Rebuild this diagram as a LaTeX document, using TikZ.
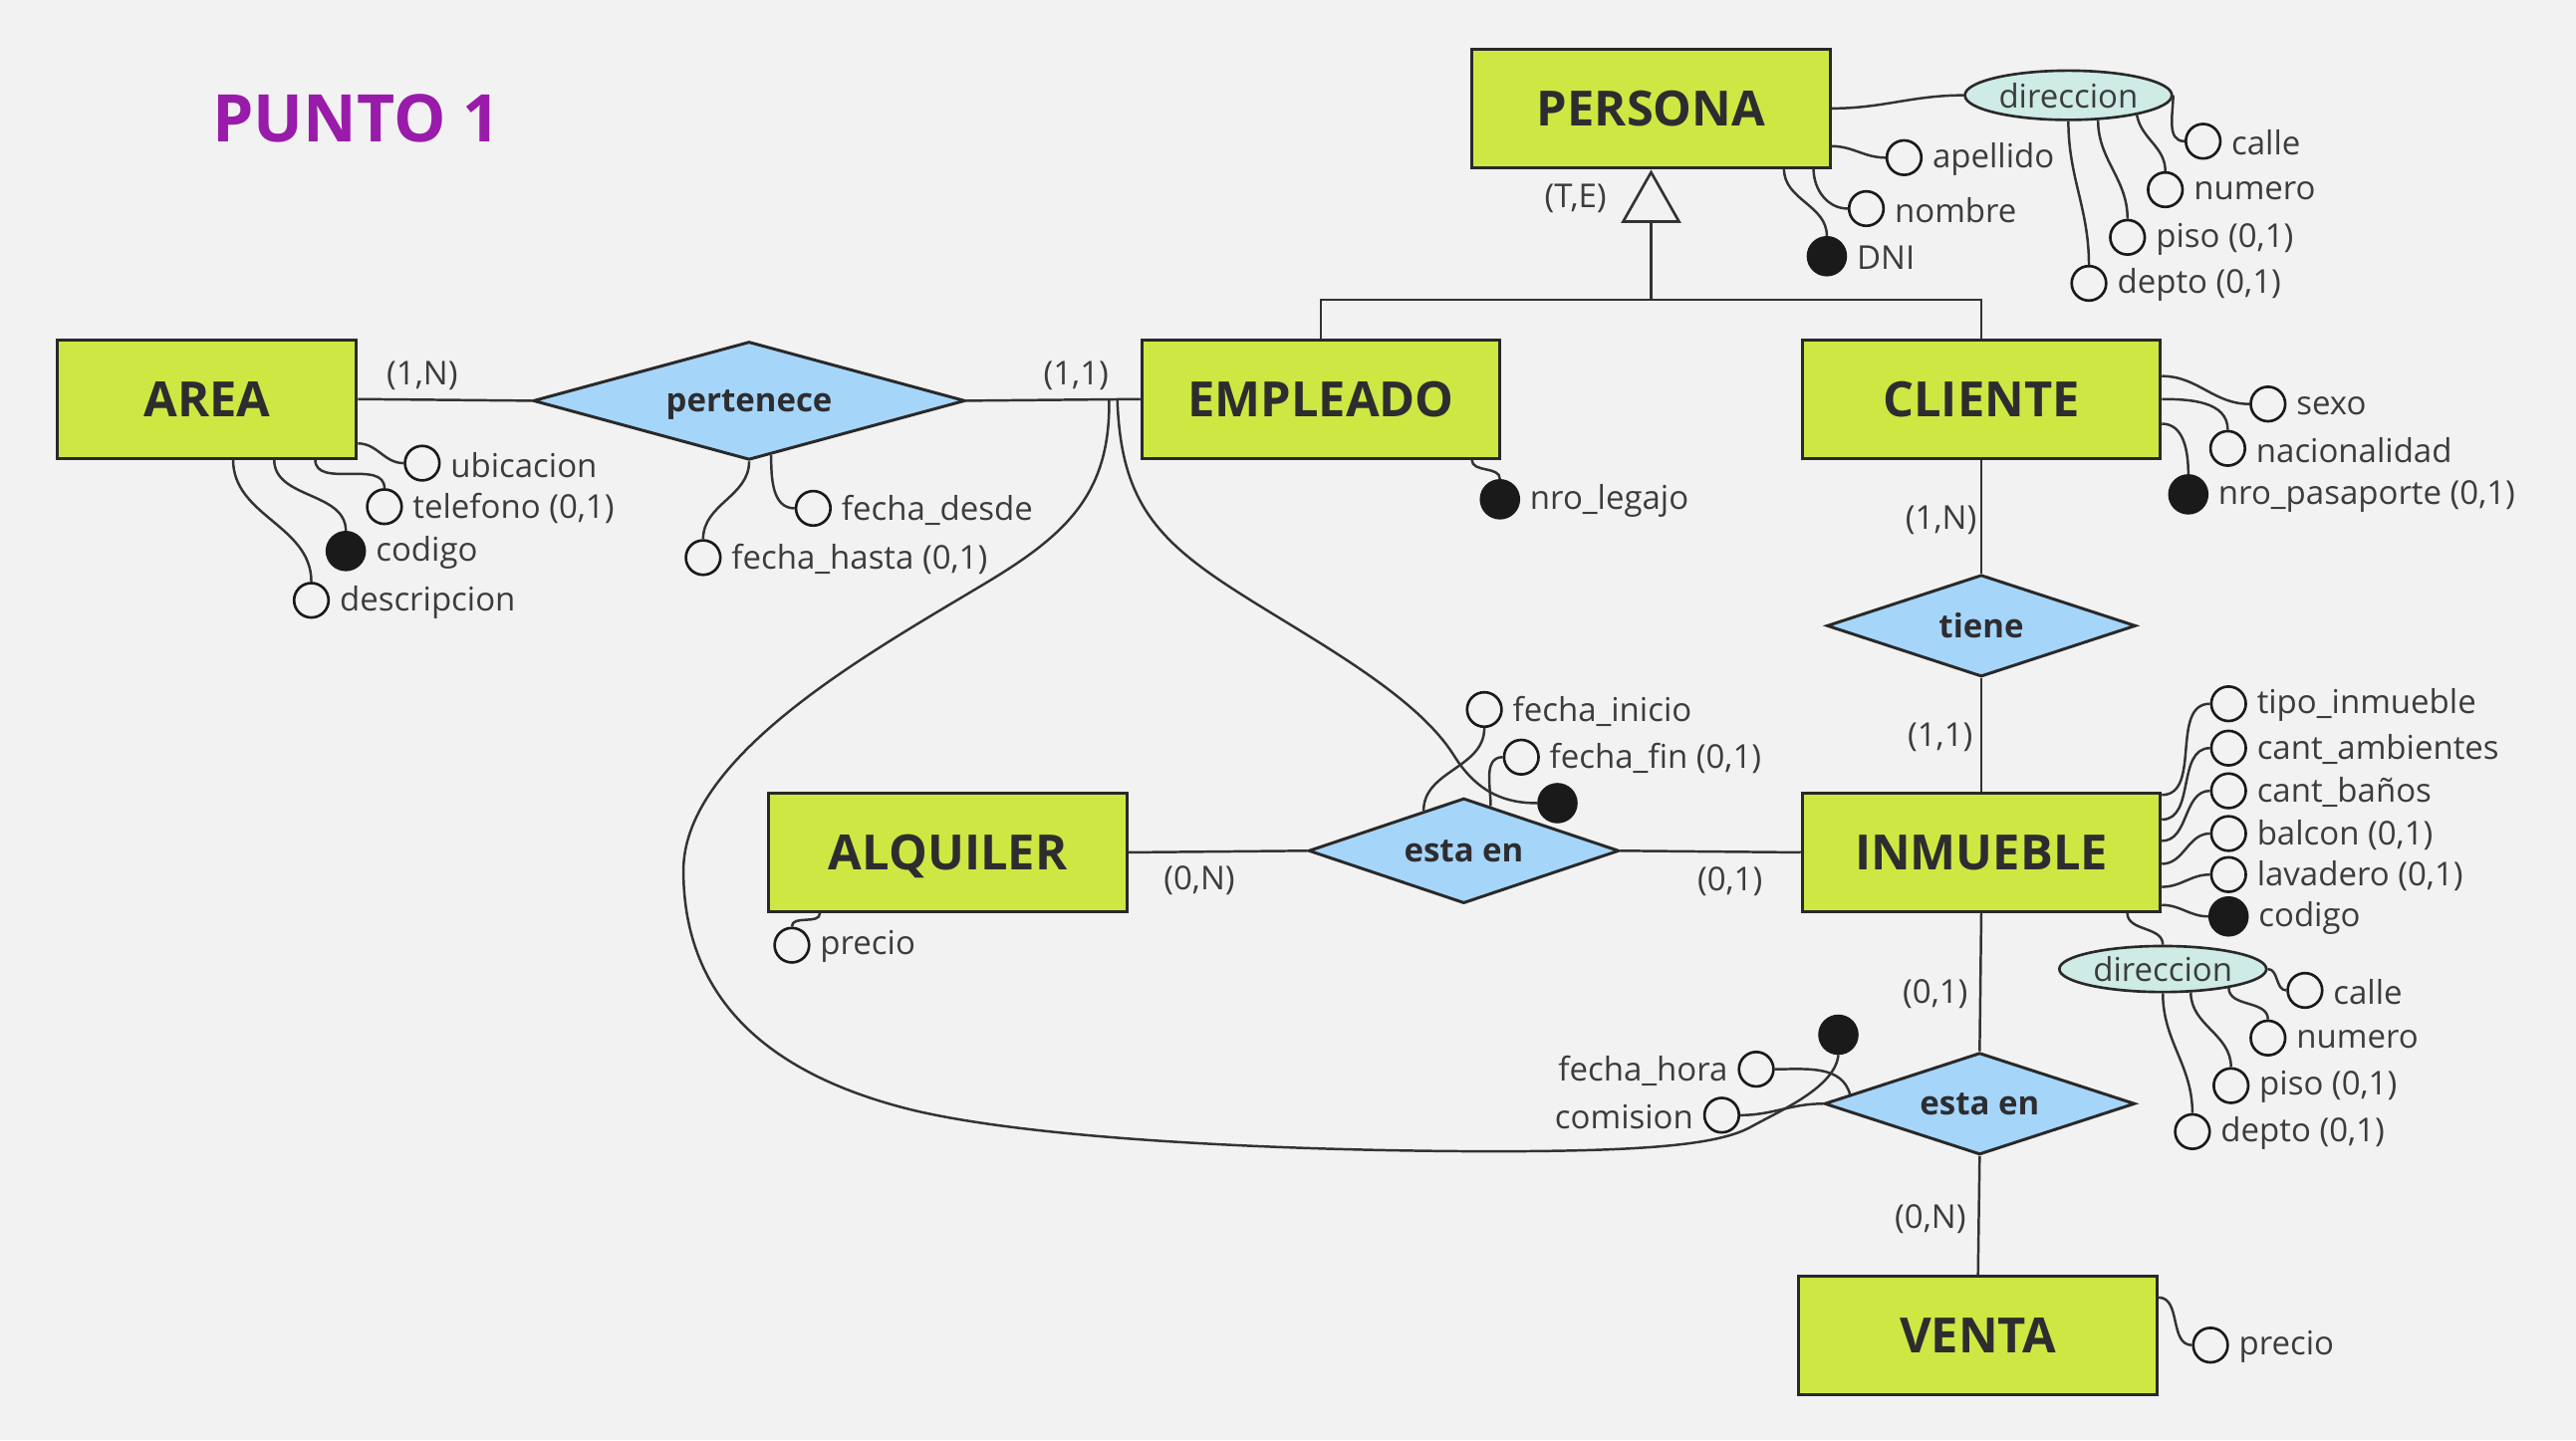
\documentclass[tikz,border=0pt]{standalone}
\usepackage{fontspec}
\setmainfont{Open Sans}
\usetikzlibrary{shapes.geometric,calc}
\definecolor{bg}{RGB}{242,242,242}
\definecolor{entfill}{RGB}{207,231,66}
\definecolor{relfill}{RGB}{166,213,250}
\definecolor{ellfill}{RGB}{206,235,230}
\definecolor{ink}{RGB}{51,51,51}
\definecolor{txt}{RGB}{60,60,60}
\definecolor{enttxt}{RGB}{45,45,48}
\definecolor{titlec}{RGB}{153,27,170}
\definecolor{dotc}{RGB}{26,26,26}
\begin{document}
\begin{tikzpicture}[x=0.5pt,y=-0.5pt,
  ent/.style={draw=ink!80!black, line width=0.9pt, fill=entfill, minimum width=109pt, minimum height=36pt, inner sep=0pt, text depth=0pt, text=enttxt, font=\fontsize{14.8}{16}\selectfont\bfseries},
  rel/.style={diamond, draw=ink!80!black, line width=0.9pt, fill=relfill, inner sep=0pt, aspect=3, text depth=0pt, text=enttxt, font=\fontsize{10}{12}\selectfont\bfseries},
  ell/.style={ellipse, draw=ink!80!black, line width=0.8pt, fill=ellfill, minimum width=63pt, minimum height=15pt, inner sep=0pt, text=txt, font=\fontsize{10}{12}\selectfont},
  attr/.style={circle, draw=dotc, line width=0.8pt, fill=bg, minimum size=10.5pt, inner sep=0pt},
  key/.style={attr, fill=dotc, minimum size=11.5pt},
  lbl/.style={text=txt, font=\fontsize{10}{12}\selectfont, inner sep=2.5pt},
  every label/.style={lbl, yshift=-0.5pt},
  label distance=0.3pt,
  conn/.style={draw=ink, line width=0.75pt}
]
\fill[bg] (0,0) rectangle (1568,877);
\useasboundingbox (0,0) rectangle (1568,877);

% title
\node[font=\fontsize{20}{24}\selectfont\bfseries, text=titlec] (title) at (217,72) {PUNTO 1};

% entities
\node[ent] (persona) at (1005,66) {PERSONA};
\node[ent] (empleado) at (804,243) {EMPLEADO};
\node[ent] (cliente) at (1206,243) {CLIENTE};
\node[ent, minimum width=91pt] (area) at (126,243) {AREA};
\node[ent] (alquiler) at (577,519) {ALQUILER};
\node[ent] (inmueble) at (1206,519) {INMUEBLE};
\node[ent] (venta) at (1204,813) {VENTA};

% relationships
\node[rel, minimum width=131.5pt, minimum height=36pt] (pertenece) at (456,244) {pertenece};
\node[rel, minimum width=94pt, minimum height=31pt] (tiene) at (1206,381) {tiene};
\node[rel, minimum width=94.5pt, minimum height=32pt] (estaA) at (891,518) {esta en};
\node[rel, minimum width=94.5pt, minimum height=31pt] (estaV) at (1205,672) {esta en};

% composite attributes
\node[ell] (dirP) at (1259,58) {direccion};
\node[ell, minimum height=14pt] (dirI) at (1316.5,590) {direccion};

% PERSONA attributes
\node[attr, label=right:apellido] (apellido) at (1159,96) {};
\node[attr, label=right:nombre] (nombre) at (1136,127) {};
\node[key, label=right:DNI] (dni) at (1112,156) {};
\node[attr, label=right:calle] (calleP) at (1341,86) {};
\node[attr, label=right:numero] (numeroP) at (1318,115.5) {};
\node[attr, label=right:{piso (0,1)}] (pisoP) at (1295,144.5) {};
\node[attr, label=right:{depto (0,1)}] (deptoP) at (1271.5,172.5) {};

% AREA attributes
\node[attr, label=right:ubicacion] (ubicacion) at (257,282) {};
\node[attr, label=right:{telefono (0,1)}] (telefono) at (234,308.5) {};
\node[key, label=right:codigo] (codigoA) at (210.5,335.5) {};
\node[attr, label=right:descripcion] (descripcion) at (189.5,365.5) {};

% pertenece attributes
\node[attr, label=right:fecha\_desde] (fdesde) at (495,309.5) {};
\node[attr, label=right:{fecha\_hasta (0,1)}] (fhasta) at (428,339.5) {};

% EMPLEADO attribute
\node[key, label=right:nro\_legajo] (legajo) at (913,304) {};

% CLIENTE attributes
\node[attr, label=right:sexo] (sexo) at (1380.5,246) {};
\node[attr, label=right:nacionalidad] (nacionalidad) at (1356,273) {};
\node[key, label=right:{nro\_pasaporte (0,1)}] (pasaporte) at (1332,301) {};

% INMUEBLE attributes
\node[attr, label=right:tipo\_inmueble] (tipo) at (1356.5,428.5) {};
\node[attr, label=right:cant\_ambientes] (ambientes) at (1356.5,455.5) {};
\node[attr, label=right:cant\_baños] (banos) at (1356.5,481.5) {};
\node[attr, label=right:{balcon (0,1)}] (balcon) at (1356.5,507.5) {};
\node[attr, label=right:{lavadero (0,1)}] (lavadero) at (1356.5,532.5) {};
\node[key, label=right:codigo] (codigoI) at (1356.5,558) {};
\node[attr, label=right:calle] (calleI) at (1403,603) {};
\node[attr, label=right:numero] (numeroI) at (1380.5,632) {};
\node[attr, label=right:{piso (0,1)}] (pisoI) at (1358,661) {};
\node[attr, label=right:{depto (0,1)}] (deptoI) at (1334.5,689) {};

% esta en (alquiler) attributes
\node[attr, label=right:fecha\_inicio] (fini) at (903.5,432) {};
\node[attr, label=right:{fecha\_fin (0,1)}] (ffin) at (926,461) {};
\node[key] (dotM) at (948,489) {};

% esta en (venta) attributes
\node[attr, label=left:fecha\_hora] (fhora) at (1069,651) {};
\node[attr, label=left:comision] (comision) at (1048,679) {};
\node[key] (dotV) at (1119,630) {};

% ALQUILER / VENTA attributes
\node[attr, label=right:precio] (precioA) at (482,575.5) {};
\node[attr, label=right:precio] (precioV) at (1345.5,819) {};

% cardinalities
\node[lbl] (c1) at (257,229) {(1,N)};
\node[lbl] (c2) at (655,229) {(1,1)};
\node[lbl] (c3) at (730,536) {(0,N)};
\node[lbl] (c4) at (1053,537) {(0,1)};
\node[lbl] (c5) at (1181.5,317) {(1,N)};
\node[lbl] (c6) at (1181,449) {(1,1)};
\node[lbl] (c7) at (1178,605) {(0,1)};
\node[lbl] (c8) at (1175,742) {(0,N)};
\node[lbl] (te) at (959,121) {(T,E)};

% main connectors
\draw[conn] (area.east) -- (pertenece.west);
\draw[conn] (pertenece.east) -- (empleado.west);
\draw[conn] (alquiler.east) -- (estaA.west);
\draw[conn] (estaA.east) -- (inmueble.west);
\draw[conn] (cliente.south) -- (tiene.north);
\draw[conn] (tiene.south) -- (inmueble.north);
\draw[conn] (inmueble.south) -- (estaV.north);
\draw[conn] (estaV.south) -- (venta.north);

% generalization
\coordinate (isaTop) at ([yshift=-1pt]persona.south);
\coordinate (isaBase) at (1005,134);
\coordinate (isaJoin) at (1005,182.5);
\draw[conn, line width=0.8pt, fill=bg] (isaTop) -- ++(-17,30) -- ++(34,0) -- cycle;
\draw[conn] (isaBase) -- (isaJoin);
\draw[conn] (empleado.north) |- (isaJoin) -| (cliente.north);

% PERSONA attribute links
\draw[conn] (persona.east) to[out=0,in=180] (dirP.west);
\draw[conn] ([yshift=-11.5pt]persona.east) to[out=0,in=180] (apellido.west);
\draw[conn] ([xshift=-5.5pt]persona.south east) to[out=-90,in=180] (nombre.west);
\draw[conn] ([xshift=-14.5pt]persona.south east) to[out=-90,in=90] (dni.north);
\draw[conn] (dirP.east) to[out=-90,in=180] (calleP.west);
\draw[conn] (dirP.-16) to[out=-80,in=90] (numeroP.north);
\draw[conn] (dirP.-40) to[out=-90,in=90] (pisoP.north);
\draw[conn] (dirP.south) to[out=-90,in=90] (deptoP.north);

% AREA attribute links
\draw[conn] ([yshift=-13.5pt]area.east) to[out=0,in=180] (ubicacion.west);
\draw[conn] ([xshift=-13pt]area.south east) to[out=-90,in=90] (telefono.north);
\draw[conn] ([xshift=-25.5pt]area.south east) to[out=-90,in=90] (codigoA.north);
\draw[conn] ([xshift=-38pt]area.south east) to[out=-90,in=90] (descripcion.north);

% pertenece attribute links
\draw[conn] (pertenece.-68) to[out=-90,in=180] (fdesde.west);
\draw[conn] (pertenece.south) to[out=-90,in=90] (fhasta.north);

% EMPLEADO links
\draw[conn] ([xshift=-9pt]empleado.south east) to[out=-90,in=90] (legajo.north);
\draw[conn] ([xshift=-9.5pt]empleado.west) .. controls (676,300) and (650,325) .. (600,355)
  .. controls (530,397) and (416,460) .. (416,530)
  .. controls (416,610) and (470,655) .. (556,676)
  .. controls (636,695) and (800,701) .. (910,701)
  .. controls (1010,701) and (1048,696) .. (1066,686)
  .. controls (1084,676) and (1117,662) .. (dotV.south);
\draw[conn] ([xshift=-7pt]empleado.west) .. controls (682,300) and (700,325) .. (745,355)
  .. controls (790,385) and (860,420) .. (885,460)
  .. controls (900,484) and (918,489) .. (dotM.west);

% esta en (alquiler) links
\draw[conn] (fini.south) to[out=-90,in=90] (estaA.135);
\draw[conn] (ffin.west) to[out=180,in=90] (estaA.59);

% esta en (venta) links
\draw[conn] (fhora.east) to[out=0,in=105] (estaV.176);
\draw[conn] (comision.east) to[out=0,in=180] (estaV.west);

% CLIENTE links
\draw[conn] ([yshift=7pt]cliente.east) to[out=0,in=180] (sexo.west);
\draw[conn] (cliente.east) to[out=0,in=90] (nacionalidad.north);
\draw[conn] ([yshift=-7.5pt]cliente.east) to[out=0,in=90] (pasaporte.north);

% INMUEBLE links
\draw[conn] ([yshift=17.5pt]inmueble.east) to[out=0,in=180] (tipo.west);
\draw[conn] ([yshift=10pt]inmueble.east) to[out=0,in=180] (ambientes.west);
\draw[conn] ([yshift=3.5pt]inmueble.east) to[out=0,in=180] (banos.west);
\draw[conn] ([yshift=-3.5pt]inmueble.east) to[out=0,in=180] (balcon.west);
\draw[conn] ([yshift=-10.5pt]inmueble.east) to[out=0,in=180] (lavadero.west);
\draw[conn] ([yshift=-16pt]inmueble.east) to[out=0,in=180] (codigoI.west);
\draw[conn] ([xshift=-10.5pt]inmueble.south east) to[out=-90,in=90] (dirI.north);
\draw[conn] (dirI.east) to[out=0,in=180] (calleI.west);
\draw[conn] (dirI.-16) to[out=-90,in=90] (numeroI.north);
\draw[conn] (dirI.-40) to[out=-90,in=90] (pisoI.north);
\draw[conn] (dirI.south) to[out=-90,in=90] (deptoI.north);

% ALQUILER / VENTA links
\draw[conn] ([xshift=16pt]alquiler.south west) to[out=-90,in=90] (precioA.north);
\draw[conn] ([yshift=11.5pt]venta.east) to[out=0,in=180] (precioV.west);
\end{tikzpicture}
\end{document}
